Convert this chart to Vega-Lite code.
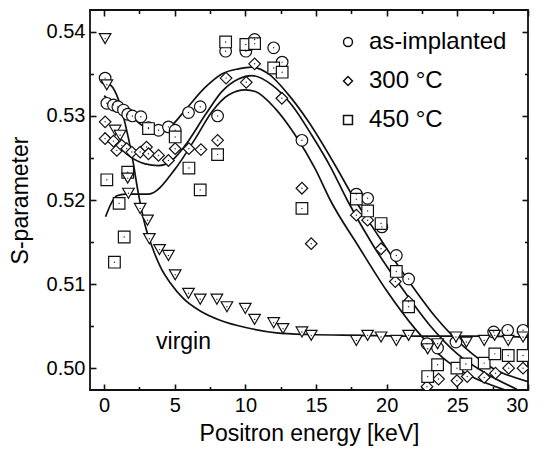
{
  "$schema": "https://vega.github.io/schema/vega-lite/v6.json",
  "width": 438,
  "height": 380,
  "autosize": {"type": "none"},
  "padding": {"left": 90, "top": 10, "right": 16, "bottom": 63},
  "config": {
    "view": {"stroke": "#111", "strokeWidth": 1.8},
    "font": "Liberation Sans"
  },
  "datasets": {
    "points": [
      {"series": "as-implanted", "E": 0.07, "S": 0.5345},
      {"series": "as-implanted", "E": 0.19, "S": 0.5315},
      {"series": "as-implanted", "E": 0.66, "S": 0.5313},
      {"series": "as-implanted", "E": 0.97, "S": 0.5311},
      {"series": "as-implanted", "E": 1.37, "S": 0.5307},
      {"series": "as-implanted", "E": 1.67, "S": 0.5302},
      {"series": "as-implanted", "E": 2.0, "S": 0.5300},
      {"series": "as-implanted", "E": 2.6, "S": 0.5299},
      {"series": "as-implanted", "E": 3.14, "S": 0.5286},
      {"series": "as-implanted", "E": 3.85, "S": 0.5283},
      {"series": "as-implanted", "E": 4.55, "S": 0.5287},
      {"series": "as-implanted", "E": 5.03, "S": 0.5283},
      {"series": "as-implanted", "E": 5.97, "S": 0.5304},
      {"series": "as-implanted", "E": 6.8, "S": 0.5311},
      {"series": "as-implanted", "E": 8.03, "S": 0.5300},
      {"series": "as-implanted", "E": 8.6, "S": 0.5377},
      {"series": "as-implanted", "E": 10.03, "S": 0.5377},
      {"series": "as-implanted", "E": 10.65, "S": 0.5391},
      {"series": "as-implanted", "E": 12.0, "S": 0.5381},
      {"series": "as-implanted", "E": 12.6, "S": 0.5364},
      {"series": "as-implanted", "E": 14.0, "S": 0.5271},
      {"series": "as-implanted", "E": 17.85, "S": 0.5207},
      {"series": "as-implanted", "E": 18.65, "S": 0.5202},
      {"series": "as-implanted", "E": 19.66, "S": 0.5168},
      {"series": "as-implanted", "E": 20.68, "S": 0.5134},
      {"series": "as-implanted", "E": 21.55, "S": 0.5106},
      {"series": "as-implanted", "E": 22.85, "S": 0.5029},
      {"series": "as-implanted", "E": 23.6, "S": 0.5024},
      {"series": "as-implanted", "E": 24.9, "S": 0.5031},
      {"series": "as-implanted", "E": 27.57, "S": 0.5043},
      {"series": "as-implanted", "E": 28.56, "S": 0.5045},
      {"series": "as-implanted", "E": 29.65, "S": 0.5045},
      {"series": "300 °C", "E": 0.07, "S": 0.5293},
      {"series": "300 °C", "E": 0.07, "S": 0.5273},
      {"series": "300 °C", "E": 0.66, "S": 0.5270},
      {"series": "300 °C", "E": 0.9, "S": 0.5259},
      {"series": "300 °C", "E": 1.25, "S": 0.5265},
      {"series": "300 °C", "E": 1.6, "S": 0.5261},
      {"series": "300 °C", "E": 1.96, "S": 0.5257},
      {"series": "300 °C", "E": 2.55, "S": 0.5257},
      {"series": "300 °C", "E": 3.0, "S": 0.5263},
      {"series": "300 °C", "E": 3.14, "S": 0.5255},
      {"series": "300 °C", "E": 3.85, "S": 0.5253},
      {"series": "300 °C", "E": 4.55, "S": 0.5247},
      {"series": "300 °C", "E": 5.03, "S": 0.5261},
      {"series": "300 °C", "E": 6.0, "S": 0.5261},
      {"series": "300 °C", "E": 6.85, "S": 0.5260},
      {"series": "300 °C", "E": 8.03, "S": 0.5271},
      {"series": "300 °C", "E": 8.63, "S": 0.5345},
      {"series": "300 °C", "E": 10.06, "S": 0.5340},
      {"series": "300 °C", "E": 10.65, "S": 0.5362},
      {"series": "300 °C", "E": 12.58, "S": 0.5321},
      {"series": "300 °C", "E": 14.0, "S": 0.5214},
      {"series": "300 °C", "E": 14.66, "S": 0.5148},
      {"series": "300 °C", "E": 17.85, "S": 0.5182},
      {"series": "300 °C", "E": 18.65, "S": 0.5176},
      {"series": "300 °C", "E": 19.6, "S": 0.5142},
      {"series": "300 °C", "E": 20.61, "S": 0.5103},
      {"series": "300 °C", "E": 21.55, "S": 0.5079},
      {"series": "300 °C", "E": 22.85, "S": 0.4978},
      {"series": "300 °C", "E": 23.67, "S": 0.4987},
      {"series": "300 °C", "E": 24.97, "S": 0.4985},
      {"series": "300 °C", "E": 25.7, "S": 0.4990},
      {"series": "300 °C", "E": 26.9, "S": 0.4989},
      {"series": "300 °C", "E": 27.7, "S": 0.4994},
      {"series": "300 °C", "E": 28.63, "S": 0.5000},
      {"series": "300 °C", "E": 29.65, "S": 0.5000},
      {"series": "450 °C", "E": 0.19, "S": 0.5224},
      {"series": "450 °C", "E": 0.73, "S": 0.5126},
      {"series": "450 °C", "E": 1.06, "S": 0.5196},
      {"series": "450 °C", "E": 1.42, "S": 0.5156},
      {"series": "450 °C", "E": 1.67, "S": 0.5233},
      {"series": "450 °C", "E": 3.14, "S": 0.5285},
      {"series": "450 °C", "E": 5.03, "S": 0.5275},
      {"series": "450 °C", "E": 6.0, "S": 0.5238},
      {"series": "450 °C", "E": 6.8, "S": 0.5212},
      {"series": "450 °C", "E": 8.03, "S": 0.5254},
      {"series": "450 °C", "E": 8.6, "S": 0.5388},
      {"series": "450 °C", "E": 10.03, "S": 0.5385},
      {"series": "450 °C", "E": 10.65, "S": 0.5386},
      {"series": "450 °C", "E": 12.0, "S": 0.5357},
      {"series": "450 °C", "E": 12.6, "S": 0.5352},
      {"series": "450 °C", "E": 14.0, "S": 0.5190},
      {"series": "450 °C", "E": 17.85, "S": 0.5201},
      {"series": "450 °C", "E": 18.65, "S": 0.5187},
      {"series": "450 °C", "E": 19.6, "S": 0.5172},
      {"series": "450 °C", "E": 20.68, "S": 0.5115},
      {"series": "450 °C", "E": 21.55, "S": 0.5073},
      {"series": "450 °C", "E": 22.9, "S": 0.4990},
      {"series": "450 °C", "E": 23.6, "S": 0.5004},
      {"series": "450 °C", "E": 24.97, "S": 0.5000},
      {"series": "450 °C", "E": 25.6, "S": 0.5005},
      {"series": "450 °C", "E": 26.9, "S": 0.5006},
      {"series": "450 °C", "E": 27.65, "S": 0.5017},
      {"series": "450 °C", "E": 28.6, "S": 0.5015},
      {"series": "450 °C", "E": 29.65, "S": 0.5015},
      {"series": "virgin", "E": 0.07, "S": 0.5392},
      {"series": "virgin", "E": 0.19, "S": 0.5337},
      {"series": "virgin", "E": 0.78, "S": 0.5283},
      {"series": "virgin", "E": 1.13, "S": 0.5277},
      {"series": "virgin", "E": 1.67, "S": 0.5226},
      {"series": "virgin", "E": 1.72, "S": 0.5208},
      {"series": "virgin", "E": 2.55, "S": 0.5190},
      {"series": "virgin", "E": 3.07, "S": 0.5176},
      {"series": "virgin", "E": 3.2, "S": 0.5154},
      {"series": "virgin", "E": 3.92, "S": 0.5141},
      {"series": "virgin", "E": 4.55, "S": 0.5134},
      {"series": "virgin", "E": 5.03, "S": 0.5111},
      {"series": "virgin", "E": 5.97, "S": 0.5089},
      {"series": "virgin", "E": 6.8, "S": 0.5082},
      {"series": "virgin", "E": 7.98, "S": 0.5082},
      {"series": "virgin", "E": 8.69, "S": 0.5073},
      {"series": "virgin", "E": 9.99, "S": 0.5071},
      {"series": "virgin", "E": 10.65, "S": 0.5058},
      {"series": "virgin", "E": 12.0, "S": 0.5054},
      {"series": "virgin", "E": 12.66, "S": 0.5047},
      {"series": "virgin", "E": 14.0, "S": 0.5043},
      {"series": "virgin", "E": 14.66, "S": 0.5039},
      {"series": "virgin", "E": 17.85, "S": 0.5033},
      {"series": "virgin", "E": 18.65, "S": 0.5039},
      {"series": "virgin", "E": 19.6, "S": 0.5037},
      {"series": "virgin", "E": 20.68, "S": 0.5033},
      {"series": "virgin", "E": 21.55, "S": 0.5039},
      {"series": "virgin", "E": 22.9, "S": 0.5023},
      {"series": "virgin", "E": 23.6, "S": 0.5029},
      {"series": "virgin", "E": 24.9, "S": 0.5037},
      {"series": "virgin", "E": 25.64, "S": 0.5031},
      {"series": "virgin", "E": 26.9, "S": 0.5033},
      {"series": "virgin", "E": 27.64, "S": 0.5039},
      {"series": "virgin", "E": 28.6, "S": 0.5033},
      {"series": "virgin", "E": 29.65, "S": 0.5037}
    ],
    "fits": [
      {"fit": "as-implanted", "E": 0.0, "S": 0.5324},
      {"fit": "as-implanted", "E": 0.78, "S": 0.5313},
      {"fit": "as-implanted", "E": 1.72, "S": 0.5303},
      {"fit": "as-implanted", "E": 2.67, "S": 0.5289},
      {"fit": "as-implanted", "E": 3.85, "S": 0.5283},
      {"fit": "as-implanted", "E": 4.79, "S": 0.5289},
      {"fit": "as-implanted", "E": 5.74, "S": 0.5307},
      {"fit": "as-implanted", "E": 7.15, "S": 0.5334},
      {"fit": "as-implanted", "E": 8.33, "S": 0.5350},
      {"fit": "as-implanted", "E": 9.51, "S": 0.5356},
      {"fit": "as-implanted", "E": 10.46, "S": 0.5358},
      {"fit": "as-implanted", "E": 11.64, "S": 0.5350},
      {"fit": "as-implanted", "E": 13.06, "S": 0.5325},
      {"fit": "as-implanted", "E": 14.47, "S": 0.5293},
      {"fit": "as-implanted", "E": 16.36, "S": 0.5241},
      {"fit": "as-implanted", "E": 17.65, "S": 0.5203},
      {"fit": "as-implanted", "E": 19.5, "S": 0.5155},
      {"fit": "as-implanted", "E": 21.5, "S": 0.5105},
      {"fit": "as-implanted", "E": 23.5, "S": 0.5060},
      {"fit": "as-implanted", "E": 25.5, "S": 0.5025},
      {"fit": "as-implanted", "E": 27.5, "S": 0.5000},
      {"fit": "as-implanted", "E": 30.0, "S": 0.4984},
      {"fit": "300", "E": 0.0, "S": 0.5280},
      {"fit": "300", "E": 0.8, "S": 0.5268},
      {"fit": "300", "E": 1.72, "S": 0.5253},
      {"fit": "300", "E": 2.9, "S": 0.5243},
      {"fit": "300", "E": 3.85, "S": 0.5241},
      {"fit": "300", "E": 4.79, "S": 0.5247},
      {"fit": "300", "E": 5.74, "S": 0.5265},
      {"fit": "300", "E": 7.15, "S": 0.5301},
      {"fit": "300", "E": 8.33, "S": 0.5329},
      {"fit": "300", "E": 9.51, "S": 0.5344},
      {"fit": "300", "E": 10.46, "S": 0.5348},
      {"fit": "300", "E": 11.87, "S": 0.5337},
      {"fit": "300", "E": 13.28, "S": 0.5313},
      {"fit": "300", "E": 14.7, "S": 0.5277},
      {"fit": "300", "E": 16.0, "S": 0.5240},
      {"fit": "300", "E": 17.2, "S": 0.5200},
      {"fit": "300", "E": 19.0, "S": 0.5147},
      {"fit": "300", "E": 21.0, "S": 0.5097},
      {"fit": "300", "E": 23.0, "S": 0.5052},
      {"fit": "300", "E": 25.0, "S": 0.5017},
      {"fit": "300", "E": 27.0, "S": 0.4994},
      {"fit": "300", "E": 29.2, "S": 0.4975},
      {"fit": "450", "E": 0.1, "S": 0.5180},
      {"fit": "450", "E": 0.5, "S": 0.5196},
      {"fit": "450", "E": 0.9, "S": 0.5205},
      {"fit": "450", "E": 1.5, "S": 0.5207},
      {"fit": "450", "E": 3.14, "S": 0.5207},
      {"fit": "450", "E": 5.03, "S": 0.5237},
      {"fit": "450", "E": 6.45, "S": 0.5273},
      {"fit": "450", "E": 7.63, "S": 0.5305},
      {"fit": "450", "E": 8.8, "S": 0.5325},
      {"fit": "450", "E": 10.0, "S": 0.5331},
      {"fit": "450", "E": 10.7, "S": 0.5329},
      {"fit": "450", "E": 12.1, "S": 0.5309},
      {"fit": "450", "E": 13.53, "S": 0.5277},
      {"fit": "450", "E": 14.94, "S": 0.5237},
      {"fit": "450", "E": 16.0, "S": 0.5200},
      {"fit": "450", "E": 18.0, "S": 0.5145},
      {"fit": "450", "E": 20.0, "S": 0.5092},
      {"fit": "450", "E": 22.0, "S": 0.5047},
      {"fit": "450", "E": 24.0, "S": 0.5012},
      {"fit": "450", "E": 26.0, "S": 0.4990},
      {"fit": "450", "E": 28.4, "S": 0.4974},
      {"fit": "virgin", "E": 0.0, "S": 0.5340},
      {"fit": "virgin", "E": 0.5, "S": 0.5336},
      {"fit": "virgin", "E": 1.0, "S": 0.5320},
      {"fit": "virgin", "E": 1.5, "S": 0.5290},
      {"fit": "virgin", "E": 2.0, "S": 0.5250},
      {"fit": "virgin", "E": 2.4, "S": 0.5210},
      {"fit": "virgin", "E": 2.9, "S": 0.5170},
      {"fit": "virgin", "E": 3.4, "S": 0.5144},
      {"fit": "virgin", "E": 4.0, "S": 0.5120},
      {"fit": "virgin", "E": 4.7, "S": 0.5101},
      {"fit": "virgin", "E": 5.6, "S": 0.5083},
      {"fit": "virgin", "E": 6.8, "S": 0.5068},
      {"fit": "virgin", "E": 8.2, "S": 0.5057},
      {"fit": "virgin", "E": 10.1, "S": 0.5048},
      {"fit": "virgin", "E": 12.2, "S": 0.5042},
      {"fit": "virgin", "E": 14.5, "S": 0.5040},
      {"fit": "virgin", "E": 18.0, "S": 0.5039},
      {"fit": "virgin", "E": 22.0, "S": 0.5038},
      {"fit": "virgin", "E": 26.0, "S": 0.5038},
      {"fit": "virgin", "E": 30.0, "S": 0.5037}
    ],
    "notes": [
      {"E": 5.62, "S": 0.5023, "label": "virgin"}
    ]
  },
  "resolve": {"axis": {"x": "independent", "y": "independent"}},
  "layer": [
    {
      "data": {"name": "fits"},
      "mark": {"type": "line", "color": "#111", "strokeWidth": 1.7, "interpolate": "monotone", "clip": true},
      "encoding": {
        "x": {
          "field": "E", "type": "quantitative",
          "scale": {"domain": [-1, 30], "nice": false, "zero": false},
          "axis": {
            "orient": "bottom",
            "values": [0, 2.5, 5, 7.5, 10, 12.5, 15, 17.5, 20, 22.5, 25, 27.5, 30],
            "labelExpr": "datum.value % 5 === 0 ? datum.label : ''",
            "tickSize": {"condition": {"test": "datum.value % 5 === 0", "value": -6}, "value": -3.5},
            "tickColor": "#111", "tickWidth": 1.6,
            "domain": false, "grid": false,
            "labelFont": "Liberation Sans", "labelFontSize": 20, "labelColor": "#000",
            "labelPadding": 11,
            "title": "Positron energy [keV]",
            "titleFont": "Liberation Sans", "titleFontSize": 23, "titleFontWeight": "normal", "titleColor": "#000",
            "titlePadding": 7
          }
        },
        "y": {
          "field": "S", "type": "quantitative",
          "scale": {"domain": [0.4974, 0.5426], "nice": false, "zero": false},
          "axis": {
            "orient": "left",
            "values": [0.5, 0.505, 0.51, 0.515, 0.52, 0.525, 0.53, 0.535, 0.54],
            "format": ".2f",
            "labelExpr": "abs(datum.value * 100 - round(datum.value * 100)) < 0.000001 ? datum.label : ''",
            "tickSize": {"condition": {"test": "abs(datum.value * 100 - round(datum.value * 100)) < 0.000001", "value": -6}, "value": -3.5},
            "tickColor": "#111", "tickWidth": 1.6,
            "domain": false, "grid": false,
            "labelFont": "Liberation Sans", "labelFontSize": 20, "labelColor": "#000",
            "labelPadding": 11,
            "title": "S-parameter",
            "titleFont": "Liberation Sans", "titleFontSize": 23, "titleFontWeight": "normal", "titleColor": "#000",
            "titlePadding": 14
          }
        },
        "detail": {"field": "fit"}
      }
    },
    {
      "data": {"name": "points"},
      "mark": {"type": "point", "filled": true, "fill": "white", "stroke": "#111", "strokeWidth": 1.2, "opacity": 1, "size": 135, "clip": true},
      "encoding": {
        "x": {"field": "E", "type": "quantitative", "axis": null},
        "y": {"field": "S", "type": "quantitative", "axis": null},
        "shape": {
          "field": "series", "type": "nominal",
          "scale": {"domain": ["as-implanted", "300 °C", "450 °C", "virgin"], "range": ["circle", "diamond", "square", "triangle-down"]},
          "legend": {
            "orient": "none", "legendX": 246, "legendY": 20,
            "values": ["as-implanted", "300 °C", "450 °C"],
            "title": null,
            "symbolSize": 80,
            "labelFont": "Liberation Sans", "labelFontSize": 24, "labelColor": "#000",
            "labelOffset": 9, "rowPadding": 15,
            "encode": {
              "symbols": {
                "update": {
                  "fill": {"value": "white"},
                  "stroke": {"value": "#111"},
                  "strokeWidth": {"value": 1.2},
                  "opacity": {"value": 1}
                }
              }
            }
          }
        }
      }
    },
    {
      "data": {"name": "points"},
      "mark": {"type": "point", "shape": "circle", "filled": true, "color": "#111", "size": 2, "opacity": 0.9, "clip": true},
      "encoding": {
        "x": {"field": "E", "type": "quantitative", "axis": null},
        "y": {"field": "S", "type": "quantitative", "axis": null}
      }
    },
    {
      "data": {"name": "notes"},
      "mark": {"type": "text", "font": "Liberation Sans", "fontSize": 23, "color": "#000", "align": "center", "baseline": "alphabetic"},
      "encoding": {
        "x": {
          "field": "E", "type": "quantitative",
          "axis": {
            "orient": "top",
            "values": [0, 2.5, 5, 7.5, 10, 12.5, 15, 17.5, 20, 22.5, 25, 27.5, 30],
            "labels": false,
            "tickSize": {"condition": {"test": "datum.value % 5 === 0", "value": -6}, "value": -3.5},
            "tickColor": "#111", "tickWidth": 1.6,
            "domain": false, "grid": false, "title": null
          }
        },
        "y": {
          "field": "S", "type": "quantitative",
          "axis": {
            "orient": "right",
            "values": [0.5, 0.505, 0.51, 0.515, 0.52, 0.525, 0.53, 0.535, 0.54],
            "labels": false,
            "tickSize": {"condition": {"test": "abs(datum.value * 100 - round(datum.value * 100)) < 0.000001", "value": -6}, "value": -3.5},
            "tickColor": "#111", "tickWidth": 1.6,
            "domain": false, "grid": false, "title": null
          }
        },
        "text": {"field": "label"}
      }
    }
  ]
}
